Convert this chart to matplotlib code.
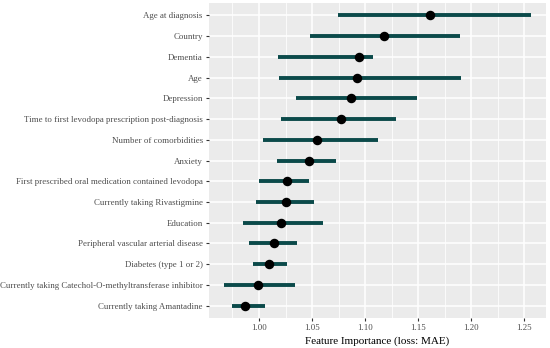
import numpy as np
import matplotlib.pyplot as plt
from matplotlib.ticker import MultipleLocator

features = [
    "Age at diagnosis",
    "Country",
    "Dementia",
    "Age",
    "Depression",
    "Time to first levodopa prescription post-diagnosis",
    "Number of comorbidities",
    "Anxiety",
    "First prescribed oral medication contained levodopa",
    "Currently taking Rivastigmine",
    "Education",
    "Peripheral vascular arterial disease",
    "Diabetes (type 1 or 2)",
    "Currently taking Catechol-O-methyltransferase inhibitor",
    "Currently taking Amantadine",
]
importance = [1.161, 1.118, 1.094, 1.092, 1.087, 1.077, 1.055, 1.047,
              1.026, 1.025, 1.021, 1.014, 1.009, 0.999, 0.987]
lower = [1.074, 1.048, 1.018, 1.019, 1.035, 1.021, 1.004, 1.017,
         1.000, 0.997, 0.985, 0.991, 0.994, 0.967, 0.975]
upper = [1.256, 1.189, 1.107, 1.190, 1.149, 1.129, 1.112, 1.073,
         1.047, 1.052, 1.060, 1.036, 1.026, 1.034, 1.006]

plt.rcParams['font.family'] = ['Liberation Serif']

fig = plt.figure(figsize=(5.5, 3.48), dpi=100)
ax = fig.add_axes([209 / 550, 1 - 318 / 348, 337 / 550, 315 / 348])
ax.set_facecolor('#EBEBEB')

n = len(features)
y = np.arange(n)[::-1]

ax.hlines(y, lower, upper, color='#0B4A4A', lw=2.8, zorder=3)
ax.scatter(importance, y, s=34, color='black', zorder=4)

ax.set_yticks(y)
ax.set_yticklabels(features)
ax.set_ylim(-0.6, n - 1 + 0.6)

ax.xaxis.set_major_locator(MultipleLocator(0.05))
ax.xaxis.set_minor_locator(MultipleLocator(0.025))
ax.set_xlim(0.9529, 1.2704)
ax.set_xticklabels([f"{t:.2f}" for t in ax.get_xticks()])

ax.grid(which='major', color='white', lw=1.1, zorder=0)
ax.grid(which='minor', axis='x', color='white', lw=0.55, zorder=0)
ax.set_axisbelow(True)
for s in ax.spines.values():
    s.set_visible(False)

ax.tick_params(axis='both', which='major', length=2.5, width=0.8,
               color='#333333', labelcolor='#4D4D4D', labelsize=6.4, pad=2)
ax.tick_params(axis='x', which='minor', length=0)
ax.set_xlabel('Feature Importance (loss: MAE)', fontsize=8, labelpad=3)

fig.savefig('out.png', dpi=100)
